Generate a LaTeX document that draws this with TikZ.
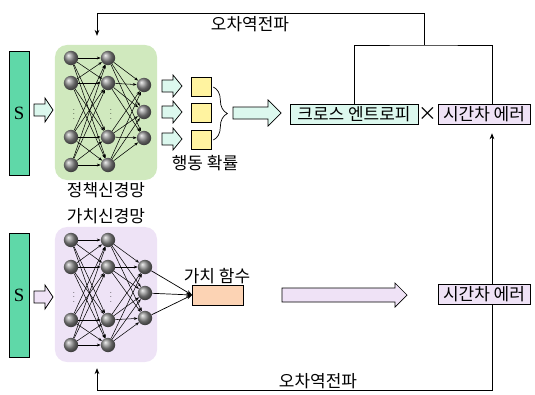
\documentclass[tikz,border=0pt]{standalone}
\usepackage{fontspec}
\newfontfamily\kr{Noto Sans CJK KR}
\newfontfamily\sr{Liberation Serif}
\usetikzlibrary{arrows.meta,calc,decorations.pathreplacing}

\definecolor{sgreen}{HTML}{5FD8A8}
\definecolor{mint}{HTML}{DCF8EE}
\definecolor{pgreen}{HTML}{D0E9BE}
\definecolor{vlav}{HTML}{EEE3F6}
\definecolor{tdlav}{HTML}{EFE2F6}
\definecolor{ybox}{HTML}{FFF3A0}
\definecolor{peach}{HTML}{FCD3B4}

\tikzset{
  lbl/.style={font=\kr\fontsize{14.5}{16}\selectfont, inner sep=0pt},
  sbar/.style={draw, line width=0.6pt, fill=sgreen, minimum width=0.6cm, minimum height=3.7cm, inner sep=0pt, font=\sr\fontsize{16}{16}\selectfont},
  netbox/.style={rounded corners=0.36cm, minimum width=3.06cm, minimum height=4.05cm},
  neuron/.style={circle, shading=ball, ball color=gray!90, minimum size=0.43cm, inner sep=0pt},
  link/.style={-{Stealth[length=3.2pt,width=2.4pt]}, line width=0.45pt},
  dots/.style={inner sep=0pt, font=\scriptsize},
  tbox/.style={draw, line width=0.6pt, minimum height=0.6cm, inner sep=0pt, font=\kr\fontsize{14.5}{16}\selectfont},
  harrow/.style={draw, line width=0.6pt},
  fb/.style={line width=0.6pt}
}

\begin{document}
\begin{tikzpicture}[x=0.03cm, y=-0.03cm]
		\useasboundingbox (0,0) rectangle (535,395);

		% inputs
		\node[sbar] (sp) at (19,113.5) {S};
		\node[sbar] (sv) at (19,295.5) {S};

		\draw[harrow, fill=mint] (34,104) -- (45,104) -- (45,98) -- (53,110) -- (45,122) -- (45,116) -- (34,116) -- cycle;
		\draw[harrow, fill=tdlav] (34,291) -- (45,291) -- (45,285) -- (53,297) -- (45,309) -- (45,303) -- (34,303) -- cycle;

		% policy network
		\node[netbox, fill=pgreen] (pnet) at (106,112.5) {};
		\node[lbl] (pname) at (106,190) {정책신경망};
		\foreach \i/\yy in {1/58,2/83,3/137,4/165} {
			\node[neuron] (pa\i) at (71,\yy) {};
			\node[neuron] (pb\i) at (108,\yy) {};
		}
		\foreach \i/\yy in {1/85,2/112,3/138}
			\node[neuron] (pc\i) at (144,\yy) {};
		\node[dots] (pdots1) at (74,111) {$\vdots$};
		\node[dots] (pdots2) at (111,111) {$\vdots$};
		\foreach \i in {1,...,4}
			\foreach \j in {1,...,4}
				\draw[link] (pa\i) -- (pb\j);
		\foreach \i in {1,...,4}
			\foreach \j in {1,...,3}
				\draw[link] (pb\i) -- (pc\j);

		% action probabilities
		\foreach \yy in {86,112,139}
			\draw[harrow, fill=mint] (162,\yy-6) -- (173,\yy-6) -- (173,\yy-11) -- (182,\yy) -- (173,\yy+11) -- (173,\yy+6) -- (162,\yy+6) -- cycle;
		\node[draw, line width=0.6pt, fill=ybox, minimum width=0.6cm, minimum height=0.58cm] (y1) at (201,87) {};
		\node[draw, line width=0.6pt, fill=ybox, minimum width=0.6cm, minimum height=0.58cm] (y2) at (201,113) {};
		\node[draw, line width=0.6pt, fill=ybox, minimum width=0.6cm, minimum height=0.58cm] (y3) at (201,140) {};
		\node[lbl] (prob) at (205,163) {행동 확률};
		\draw[line width=0.6pt, decorate, decoration={brace, amplitude=0.42cm}] ($(y1.east)+(2,0)$) -- ($(y3.east)+(2,0)$);
		\draw[harrow, fill=mint] (233,107) -- (268,107) -- (268,100) -- (281,113) -- (268,126) -- (268,119) -- (233,119) -- cycle;

		% loss
		\node[tbox, fill=mint, minimum width=3.84cm] (ce) at (354,114) {크로스 엔트로피};
		\node[lbl, font=\kr\fontsize{16}{16}\selectfont] (times) at (428,114) {×};
		\node[tbox, fill=tdlav, minimum width=2.76cm] (td1) at (484,114) {시간차 에러};

		% value network
		\node[netbox, fill=vlav] (vnet) at (106,294.5) {};
		\node[lbl] (vname) at (106,216) {가치신경망};
		\foreach \i/\yy in {1/240,2/267,3/320,4/345} {
			\node[neuron] (va\i) at (71,\yy) {};
			\node[neuron] (vb\i) at (108,\yy) {};
		}
		\foreach \i/\yy in {1/267,2/293,3/318}
			\node[neuron] (vc\i) at (145,\yy) {};
		\node[dots] (vdots1) at (74,294) {$\vdots$};
		\node[dots] (vdots2) at (111,294) {$\vdots$};
		\foreach \i in {1,...,4}
			\foreach \j in {1,...,4}
				\draw[link] (va\i) -- (vb\j);
		\foreach \i in {1,...,4}
			\foreach \j in {1,...,3}
				\draw[link] (vb\i) -- (vc\j);

		% value function
		\node[tbox, fill=peach, minimum width=1.53cm] (vf) at (218,295) {};
		\node[lbl] (vfname) at (217,276) {가치 함수};
		\foreach \j in {1,2,3}
			\draw[-{Stealth[length=5pt,width=3.5pt]}, line width=0.6pt] (vc\j) -- (vf.west);
		\draw[harrow, fill=tdlav] (282,288) -- (395,288) -- (395,283) -- (407,295) -- (395,307) -- (395,302) -- (282,302) -- cycle;

		% feedback
		\coordinate (tdx) at (492,0);
		\coordinate (fbl) at (97,0);
		\coordinate (join) at (424,45);
		\draw[fb] (ce.north) |- (join) -| (td1.north -| tdx);
		\draw[fb, -{Stealth[length=5pt,width=4pt]}, shorten >=0.27cm] (join) -- ++(0,-32) -| (pnet.north -| fbl);
		\node[lbl] (bp1) at (250,24) {오차역전파};

		\node[tbox, fill=tdlav, minimum width=2.76cm] (td2) at (484,294) {시간차 에러};
		\draw[fb, -{Stealth[length=5pt,width=4pt]}, shorten >=0.27cm] (td2.north -| tdx) -- (td1.south -| tdx);
		\draw[fb, -{Stealth[length=5pt,width=4pt]}, shorten >=0.18cm] (td2.south -| tdx) -- ++(0,86) -| (vnet.south -| fbl);
		\node[lbl] (bp2) at (318,381) {오차역전파};

	\end{tikzpicture}
\end{document}
